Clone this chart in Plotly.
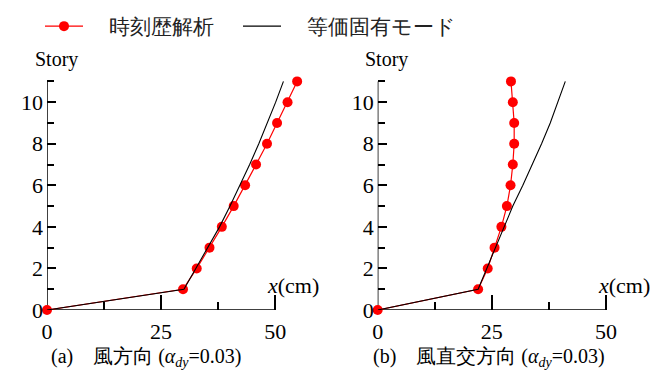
import plotly.graph_objects as go

# Story levels (0 = ground, 11 = roof)
stories = list(range(12))

# Peak displacement x (cm) per story – along-wind direction
along_time_history = [0, 29.8, 32.8, 35.6, 38.3, 40.9, 43.4, 45.8, 48.2, 50.4, 52.7, 54.8]
along_equiv_mode = [0, 30.0, 32.6, 35.2, 37.8, 40.1, 42.3, 44.4, 46.4, 48.3, 50.1, 51.8]

# Peak displacement x (cm) per story – across-wind direction
across_time_history = [0, 22.0, 24.1, 25.6, 27.1, 28.3, 29.1, 29.6, 29.9, 29.9, 29.6, 29.2]
across_equiv_mode = [0, 22.0, 23.9, 25.8, 27.6, 29.6, 31.8, 33.9, 35.9, 37.8, 39.5, 41.1]

x_major = [0, 25, 50]
x_minor = [12.5, 37.5]
y_major = [0, 2, 4, 6, 8, 10]
y_minor = [1, 3, 5, 7, 9, 11]

series_names = ["　時刻歴解析", "　等価固有モード"]
panel_titles = [
    "(a)　風方向 (<i>α<sub>dy</sub></i>=0.03)",
    "(b)　風直交方向 (<i>α<sub>dy</sub></i>=0.03)",
]

FONT = "Liberation Serif"
W, H = 667, 372

fig = go.Figure()

panels = [
    (along_time_history, along_equiv_mode, "x", "y"),
    (across_time_history, across_equiv_mode, "x2", "y2"),
]
for i, (th, em, xa, ya) in enumerate(panels):
    fig.add_trace(go.Scatter(
        x=th, y=stories, xaxis=xa, yaxis=ya, mode="lines+markers",
        name=series_names[0], legend="legend", showlegend=(i == 0),
        line=dict(color="#ff0000", width=1.2),
        marker=dict(color="#ff0000", size=10),
        cliponaxis=False,
    ))
    fig.add_trace(go.Scatter(
        x=em, y=stories, xaxis=xa, yaxis=ya, mode="lines",
        name=series_names[1], legend="legend2", showlegend=(i == 0),
        line=dict(color="#000000", width=1.1),
        cliponaxis=False,
    ))

x_range = [0, 62]
y_range = [0, 11.5]
y_dom = [(H - 310) / H, (H - 71) / H]
x_doms = [[47 / W, 330 / W], [377.7 / W, 660.7 / W]]

common_x = dict(
    range=x_range, showline=False, showgrid=False, zeroline=False, automargin=False,
    tickmode="array", tickvals=x_major, ticktext=[str(v) for v in x_major],
    ticks="inside", ticklen=15, tickwidth=1.5, tickcolor="black",
    minor=dict(tickmode="array", tickvals=x_minor, ticks="inside",
               ticklen=8, tickwidth=1.5, tickcolor="black"),
    tickfont=dict(family=FONT, size=22, color="black"),
    ticklabelstandoff=6,
)
common_y = dict(
    range=y_range, showline=False, showgrid=False, zeroline=False, automargin=False,
    tickmode="array", tickvals=y_major, ticktext=[str(v) for v in y_major],
    ticks="inside", ticklen=9, tickwidth=1.5, tickcolor="black",
    minor=dict(tickmode="array", tickvals=y_minor, ticks="inside",
               ticklen=7, tickwidth=1.5, tickcolor="black"),
    tickfont=dict(family=FONT, size=22, color="black"),
    ticklabelstandoff=3,
)

fig.update_layout(
    xaxis=dict(domain=x_doms[0], anchor="y", **common_x),
    yaxis=dict(domain=y_dom, anchor="x", **common_y),
    xaxis2=dict(domain=x_doms[1], anchor="y2", **common_x),
    yaxis2=dict(domain=y_dom, anchor="x2", **common_y),
)

# Axis lines stop at the last tick (x = 50, story 11)
shapes = []
for xa, ya in [("x", "y"), ("x2", "y2")]:
    shapes.append(dict(type="line", xref=xa, yref=ya, x0=0, x1=x_major[-1], y0=0, y1=0,
                       line=dict(color="black", width=1.5), layer="below"))
    shapes.append(dict(type="line", xref=xa, yref=ya, x0=0, x1=0, y0=0, y1=y_minor[-1],
                       line=dict(color="black", width=1.5), layer="below"))

annotations = []
for k, (xa, ya) in enumerate([("x", "y"), ("x2", "y2")]):
    # axis titles
    annotations.append(dict(text="Story", xref=xa, yref="paper",
                            x=2, y=(H - 60) / H, xanchor="center", yanchor="middle",
                            showarrow=False,
                            font=dict(family=FONT, size=20, color="black")))
    annotations.append(dict(text="<i>x</i>(cm)", xref=xa, yref=ya,
                            x=x_major[-1] + 4, y=1.2, xanchor="center", yanchor="middle",
                            showarrow=False,
                            font=dict(family=FONT, size=22, color="black")))
    # panel caption
    annotations.append(dict(text=panel_titles[k], xref="paper", yref="paper",
                            x=[49, 371][k] / W, y=(H - 357) / H,
                            xanchor="left", yanchor="middle", showarrow=False,
                            font=dict(family=FONT, size=20, color="black")))

legend_common = dict(orientation="h", yanchor="top", xanchor="left", y=1 - 6 / H,
                     font=dict(family=FONT, size=21, color="#222"),
                     itemwidth=38, bgcolor="rgba(0,0,0,0)", borderwidth=0)

fig.update_layout(
    template="none",
    shapes=shapes,
    annotations=annotations,
    width=W, height=H,
    margin=dict(l=0, r=0, t=0, b=0, autoexpand=False),
    paper_bgcolor="white", plot_bgcolor="white",
    showlegend=True,
    legend=dict(x=40 / W, **legend_common),
    legend2=dict(x=238 / W, **legend_common),
)

fig.write_html("out.html")
